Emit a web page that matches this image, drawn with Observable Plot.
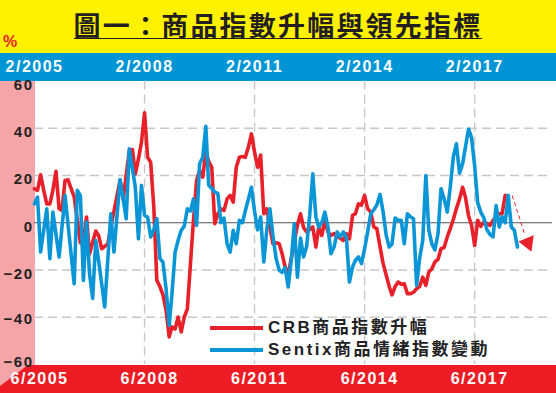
<!DOCTYPE html>
<html>
<head>
<meta charset="utf-8">
<script src="https://cdn.jsdelivr.net/npm/d3@7"></script>
<script src="https://cdn.jsdelivr.net/npm/@observablehq/plot@0.6"></script>
<style>
  html, body { margin: 0; padding: 0; background: #fff; }
  #wrap { position: relative; width: 556px; height: 393px; overflow: hidden; background: #fff; }
  .band { position: absolute; left: 0; }
  #yellow { top: 0; width: 556px; height: 53.3px; background: #fff200; }
  #blue { top: 53.3px; width: 556px; height: 27.7px; background: #0096d6; }
  #pink { top: 81px; width: 35px; height: 284px; background: #f5a5a8; }
  #red { top: 365px; width: 556px; height: 28px; background: #ed1c24; }
  #pinktri { top: 365px; width: 28px; height: 21px; background: #f5a5a8; clip-path: polygon(0 0, 100% 0, 0 100%); }
  #title { position: absolute; top: 11px; left: 0; width: 556px; text-align: center;
    font-family: "Noto Sans CJK TC", "Noto Sans CJK SC", sans-serif; font-weight: 700;
    font-size: 27px; line-height: 27px; color: #231f20; }
  #title span { display: inline-block; letter-spacing: 2.2px; border-bottom: 1.6px solid #231f20; padding-bottom: 0; }
  #pct { position: absolute; left: 3px; top: 33px; font: bold 16px "Liberation Sans", Arial, sans-serif; color: #e8202a; }
  #chart { position: absolute; left: 0; top: 0; }
  #chart svg text { letter-spacing: 1.5px; }
  .item { position: absolute; left: 210px; height: 18px; display: flex; align-items: center; }
  .sw { width: 53px; height: 4px; margin-right: 5px; }
  .lt { font-family: "Liberation Sans", "Noto Sans CJK TC", sans-serif; font-weight: bold; font-size: 17px;
    letter-spacing: 2.5px; color: #222; line-height: 18px; white-space: nowrap; }
</style>
</head>
<body>
<div id="wrap">
  <div id="yellow" class="band"></div>
  <div id="blue" class="band"></div>
  <div id="pink" class="band"></div>
  <div id="red" class="band"></div>
  <div id="pinktri" class="band"></div>
  <div id="title"><span>圖一：商品指數升幅與領先指標</span></div>
  <div id="pct">%</div>
  <div id="chart"></div>
  <div class="item" style="top:319px"><span class="sw" style="background:#e8202a"></span><span class="lt">CRB商品指數升幅</span></div>
  <div class="item" style="top:341px"><span class="sw" style="background:#0a96d6"></span><span class="lt">Sentix商品情緒指數變動</span></div>
</div>
<script>
// Monthly readings starting June 2005 (null = not read at that month)
const crbValues = [
  14.4, 13.7, 20.3, 13.7, 8, 8, 13.7, 21.8, 5.9, 5.2,
  17.9, 18.2, 14.4, 11, null, -8.5, -7.5, 2.4, -13.1, null,
  -3.5, -5.4, -11, null, -8.9, -1.8, null, null, 17.9, 10,
  null, 30.5, 31, 20.7, 27, 34, 46.5, 27.7, 25.6, 6.6,
  -24.4, -27, -30.5, -37, -48.3, -44.1, -45, -39.9, -46.2, -40,
  -36.5, -17.3, 1, 17.9, 22.1, 19.3, 29.9, 26, 23.5, -0.4,
  3.8, 5.9, 5.2, 10.1, 11.6, 8.7, 23.5, 27.7, 28, 27.7,
  32, 37.6, 30, 23.5, 28.6, 3.8, 5.9, -2, -8.9, -8.5,
  -8.9, -13, -18.7, -22.3, -15, -8, -1, 3.8, -2, -3.9,
  null, -1.8, -10.3, -1.8, -5.4, 1, -3.9, -5.4, -4.6, -6,
  -6.5, -7.5, -4.6, -6.8, 3.1, 3.8, 8, 7.5, 11.6, 6,
  4.5, -1.8, -2.5, -10, -17, -22, -27, -30.5, -27, -25.1,
  -26, -25.8, -30, -30, -29.5, -27.9, -27, -23, -26.5, -20.9,
  -19.5, -16.6, -15.5, -11, -10.5, -6, -2.5, 1.5, 6, 10,
  15, 10.8, 3, -1.1, -9.6, 1, -1.5, 0.3, -0.4, -1.1,
  1, 2.5, 3.8, 3.8, 11.6
];
const sentixValues = [
  8, 10.8, -12.4, null, 5.9, -15.2, 4.5, null, -14.5, null,
  11.6, null, null, -25.8, 13.7, 11.6, -24.4, 0.3, -21.6, -32,
  -7.5, -15.9, null, -35.6, null, 3.8, -12.4, null, 18.3, 10.1,
  1.7, 31.3, null, 15, -6.8, 15.8, 3.1, 2.4, -6, -3,
  1.7, -15.2, -16.6, -28, -43.4, -30, -12.4, -7.5, -3.2, -1.5,
  5.9, 5, 10.1, -1.1, 24.9, 27.7, 40.8, 16, 14.5, 13,
  12.3, 0, 2, -8.9, -12.4, -3.2, -8.9, 1, 0, 5,
  10, 15, 5, -3, 2.4, -16.6, -3, 5.9, -5.4, -15,
  -20, -21, -19, -27.2, -15.9, -0.4, -23, -6.5, -14.5, -10,
  3, 20.7, 2.4, -1.8, 0, 4.5, -1.8, -13.1, -10.3, -3.9,
  -6, -3.9, -6, -25.1, -18.7, -16, -14.5, -17.3, -11, -4,
  3.8, 5.5, 7.5, 12, 5, -5, -10.3, -9, 2, 1,
  1, -8.9, 3.8, 2.5, 1.7, -26.5, -15, -7.5, 20, -3,
  -9, -11.5, -4.6, 14.4, 10.1, 4.5, 15, 28, 33.4, 21,
  25, 32, 39.7, 36, 24, 8.5, 4.5, 2, -3, -5,
  -6, 7.3, -1.8, 2.5, 0, 11.6, -1.8, -3.2, -10.3
];
const labelTicks = ["2005-06", "2008-06", "2011-06", "2014-06", "2017-06"];
const gridTicks = ["2008-06", "2011-06", "2014-06", "2017-06"];
const topLabels = ["2/2005", "2/2008", "2/2011", "2/2014", "2/2017"];
const bottomLabels = ["6/2005", "6/2008", "6/2011", "6/2014", "6/2017"];
const yTicksUpper = [60, 40, 20, 0, -20];
const yTicksLower = [-40];
const yTicksBottom = [-60];
const yGrid = [40, 20, -20, -40];
const xEnd = "2019-07-16";
// projected-direction annotation (dashed arrow ending in a triangle)
const arrowFrom = { date: "2018-06-10", value: 11.5 };
const arrowTo = { date: "2018-10-10", value: -4.5 };
const arrowHead = { date: "2018-11-13", value: -8.5 };

const parse = s => new Date(s.length === 7 ? s + "-01T00:00:00Z" : s + "T00:00:00Z");
const monthDate = i => new Date(Date.UTC(2005, 5 + i, 1));
const toSeries = vals => vals.map((v, i) => ({ date: monthDate(i), value: v })).filter(d => d.value != null);
const crb = toSeries(crbValues);
const sentix = toSeries(sentixValues);
const labelDates = labelTicks.map(parse);
const topMap = new Map(labelDates.map((d, i) => [+d, topLabels[i]]));
const botMap = new Map(labelDates.map((d, i) => [+d, bottomLabels[i]]));
const arrow = [{ x1: parse(arrowFrom.date), y1: arrowFrom.value, x2: parse(arrowTo.date), y2: arrowTo.value }];
const head = [{ date: parse(arrowHead.date), value: arrowHead.value }];

const RED = "#e8202a", BLUE = "#0a96d6", GRID = "#c8c8c8";
const yAxisStyle = { tickSize: 0, tickPadding: 1, fontSize: 15, fontWeight: "bold", fill: "#222", label: null };

const chart = Plot.plot({
  width: 556,
  height: 393,
  marginLeft: 34,
  marginRight: 4,
  marginTop: 80.5,
  marginBottom: 29,
  style: { background: "transparent", fontFamily: "'Liberation Sans', Arial, sans-serif", overflow: "visible" },
  x: { type: "utc", domain: [monthDate(0), parse(xEnd)] },
  y: { domain: [-60, 60] },
  marks: [
    Plot.ruleY(yGrid, { stroke: GRID, strokeWidth: 1.4, strokeDasharray: "9,5" }),
    Plot.ruleX(gridTicks.map(parse), { stroke: GRID, strokeWidth: 1.4, strokeDasharray: "9,5" }),
    Plot.ruleY([0], { stroke: "#555", strokeWidth: 1 }),
    Plot.lineY(crb, { x: "date", y: "value", stroke: RED, strokeWidth: 3.6, strokeLinejoin: "round" }),
    Plot.lineY(sentix, { x: "date", y: "value", stroke: BLUE, strokeWidth: 3.6, strokeLinejoin: "round" }),
    Plot.link(arrow, { x1: "x1", y1: "y1", x2: "x2", y2: "y2", stroke: RED, strokeWidth: 1, strokeDasharray: "4,3" }),
    Plot.dot(head, { x: "date", y: "value", symbol: "triangle", r: 6.1, fill: RED, rotate: 158 }),
    Plot.axisY({ ticks: yTicksUpper, dy: 4, ...yAxisStyle }),
    Plot.axisY({ ticks: yTicksLower, dy: 1.5, ...yAxisStyle }),
    Plot.axisY({ ticks: yTicksBottom, dy: -2, ...yAxisStyle }),
    Plot.axisX({ anchor: "top", ticks: labelDates, tickFormat: d => topMap.get(+d), tickSize: 0, tickPadding: 0,
      lineAnchor: "middle", dy: -13.8, fontSize: 16, fontWeight: "bold", fill: "#fff", label: null }),
    Plot.axisX({ anchor: "bottom", ticks: labelDates, tickFormat: d => botMap.get(+d), tickSize: 0, tickPadding: 0,
      lineAnchor: "middle", dy: 14.7, dx: 5, fontSize: 16, fontWeight: "bold", fill: "#fff", label: null })
  ]
});
document.getElementById("chart").appendChild(chart);
</script>
</body>
</html>
